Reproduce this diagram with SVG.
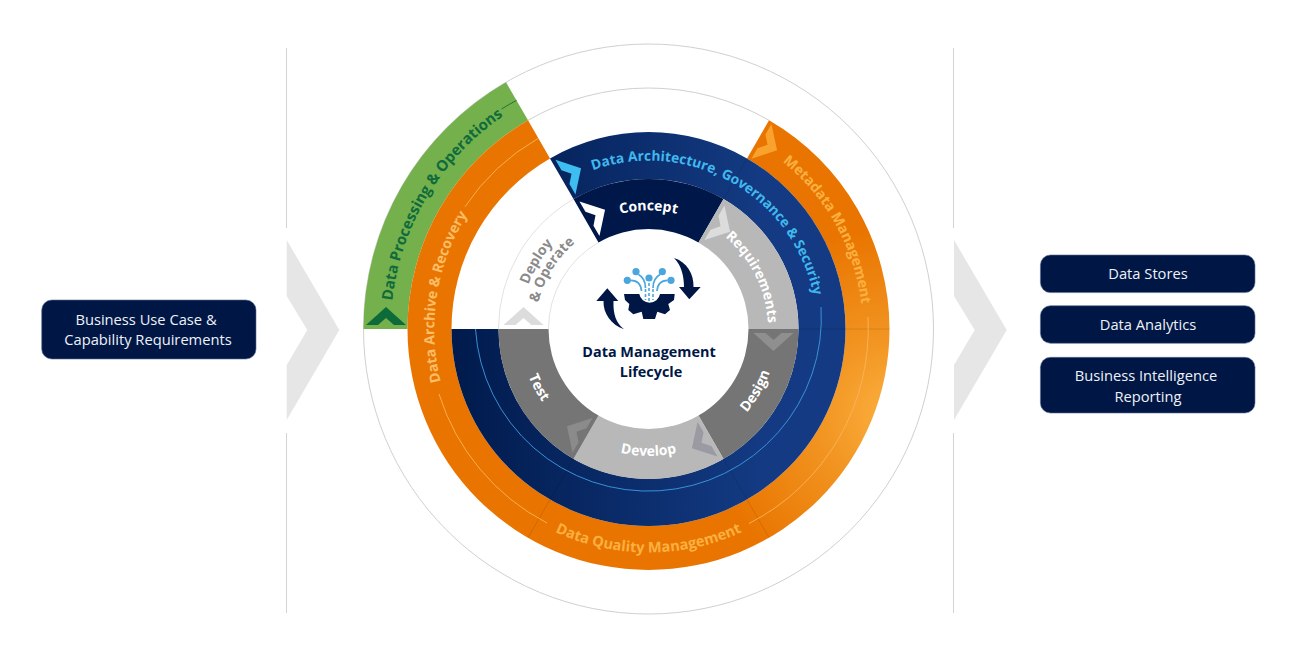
<svg xmlns="http://www.w3.org/2000/svg" xmlns:xlink="http://www.w3.org/1999/xlink" width="1309" height="668" viewBox="0 0 1309 668">
<style>
text{font-family:"Open Sans","Noto Sans","Liberation Sans",sans-serif}
.box{fill:#001746;stroke:#5b6d92;stroke-width:.6}
.bt{fill:#eef1f6;font-size:14.7px;text-anchor:middle}
.rt{font-size:14.2px;font-weight:700;text-anchor:middle}
.st{font-size:14px;font-weight:700;text-anchor:middle;fill:#fff}
.ct{font-size:14.4px;font-weight:700;text-anchor:middle;fill:#001746}
.vl{stroke:#d4d4d4;stroke-width:1;fill:none}
.ring{fill:none;stroke:#d0d0d0;stroke-width:1}
.ring2{fill:none;stroke:#e2e2e2;stroke-width:1}
.bigc{fill:#e6e6e6}
.g-or{fill:none;stroke:#f9b35a;stroke-width:.9}
.g-bl{fill:none;stroke:#3f9be0;stroke-width:.9}
.seam{stroke:#000;stroke-opacity:.14;stroke-width:.8;fill:none}
.dot{fill:#4aa6dc}
.wire{fill:none;stroke:#4aa6dc;stroke-width:1.7}
.dash{fill:none;stroke:#4aa6dc;stroke-width:1.6;stroke-dasharray:3 2}
</style>
<defs>
<polygon id="chev" points="-20,9 0,-9 20,9 8,9 0,2 -8,9"/>
<linearGradient id="blueG" gradientUnits="userSpaceOnUse" x1="-197" y1="0" x2="110" y2="0">
<stop offset="0" stop-color="#001a4c"/><stop offset="1" stop-color="#133a82"/>
</linearGradient>
<radialGradient id="orangeG" gradientUnits="userSpaceOnUse" cx="245" cy="85" r="185">
<stop offset="0" stop-color="#fbb040"/><stop offset=".4" stop-color="#f29522"/><stop offset="1" stop-color="#e97500"/>
</radialGradient>
<path id="u258" d="M-257 -22.5A258 258 0 0 1 257 -22.5"/>
<path id="u214" d="M-213.2 -18.7A214 214 0 0 1 213.2 -18.7"/>
<path id="u168" d="M-167.4 -14.6A168 168 0 0 1 167.4 -14.6"/>
<path id="u118" d="M-117.6 -10.3A118 118 0 0 1 117.6 -10.3"/>
<path id="u120" d="M-119.5 -10.5A120 120 0 0 1 119.5 -10.5"/>
<path id="u128" d="M-127.5 -11.2A128 128 0 0 1 127.5 -11.2"/>
<path id="u113" d="M-112.6 -9.8A113 113 0 0 1 112.6 -9.8"/>
<path id="b224" d="M-223.1 19.5A224 224 0 0 0 223.1 19.5"/>
<path id="b129" d="M-128.5 11.2A129 129 0 0 0 128.5 11.2"/>
<path id="b127" d="M-126.5 11.1A127 127 0 0 0 126.5 11.1"/>
</defs>
<g id="frame">
<path class="vl" d="M286.5 48V228M286.5 433V613M953.5 48V228M953.5 433V613"/>
<polygon class="bigc" points="286.7,240 339.3,330 286.7,420 286.7,365 307.3,330 286.7,296"/>
<polygon class="bigc" points="954,240 1006.7,330 954,420 954,365 974.7,330 954,296"/>
</g>
<g id="input-business-use-case">
<rect class="box" x="41.7" y="300" width="214.3" height="59" rx="10"/>
<text class="bt" x="146" y="324.5">Business Use Case &amp;</text>
<text class="bt" x="148" y="345">Capability Requirements</text>
</g>
<g id="output-data-stores">
<rect class="box" x="1040.4" y="255" width="214.6" height="37.6" rx="10"/>
<text class="bt" x="1148" y="278.5">Data Stores</text>
</g>
<g id="output-data-analytics">
<rect class="box" x="1040.4" y="305.7" width="214.6" height="37.6" rx="10"/>
<text class="bt" x="1148" y="329.5">Data Analytics</text>
</g>
<g id="output-bi-reporting">
<rect class="box" x="1040.4" y="357.3" width="214.6" height="55.7" rx="10"/>
<text class="bt" x="1146" y="381">Business Intelligence</text>
<text class="bt" x="1148" y="401.5">Reporting</text>
</g>
<g id="wheel" transform="translate(648.5 329)">
<g id="guide-circles">
<circle class="ring" r="285"/>
<path class="ring" d="M-120.5 -208.7A241 241 0 0 1 120.5 -208.7"/>
<path class="ring2" d="M-150 0A150 150 0 0 1 -75 -129.9"/>
<path class="ring2" d="M-100 0A100 100 0 0 1 -50 -86.6"/>
</g>
<g id="data-processing-operations">
<path fill="#74b04c" d="M-285 0A285 285 0 0 1 -142.5 -246.8L-120.5 -208.7A241 241 0 0 0 -241 0Z"/>
<use href="#chev" fill="#0d6b3a" transform="translate(-262.5 -13)"/>
<text class="rt" fill="#0f6b3c" style="font-size:15px" transform="rotate(-59)"><textPath href="#u258" startOffset="50%">Data Processing &amp; Operations</textPath></text>
</g>
<g id="data-archive-recovery">
<path fill="#e97500" d="M-241 0A241 241 0 0 1 -120.5 -208.7L-98.5 -170.6A197 197 0 0 0 -197 0Z"/>
</g>
<g id="metadata-management">
<path fill="url(#orangeG)" d="M120.5 -208.7A241 241 0 0 1 241 0L197 0A197 197 0 0 0 98.5 -170.6Z"/>
<use href="#chev" fill="#f9a32e" transform="rotate(120) translate(-219 -13)"/>
<text class="rt" fill="#fbb040" transform="rotate(61)"><textPath href="#u214" startOffset="50%">Metadata Management</textPath></text>
</g>
<g id="data-quality-management">
<path fill="url(#orangeG)" d="M241 0A241 241 0 0 1 -241 0L-197 0A197 197 0 0 0 197 0Z"/>
<text class="rt" fill="#fbb040" style="font-size:14.6px"><textPath href="#b224" startOffset="50%">Data Quality Management</textPath></text>
</g>
<g id="data-archive-label">
<text class="rt" fill="#fbbd66" transform="rotate(-81)"><textPath href="#u214" startOffset="50%">Data Archive &amp; Recovery</textPath></text>
</g>
<g id="data-architecture-governance">
<path fill="url(#blueG)" d="M-98.5 -170.6A197 197 0 0 1 197 0L150 0A150 150 0 0 0 -75 -129.9Z"/>
<path fill="url(#blueG)" d="M197 0A197 197 0 0 1 -197 0L-150 0A150 150 0 0 0 150 0Z"/>
<use href="#chev" fill="#3dbdf0" transform="rotate(60) translate(-173 -13)"/>
<text class="rt" fill="#40b8ee" style="font-size:13.8px" transform="rotate(29.6)"><textPath href="#u168" startOffset="50%">Data Architecture, Governance &amp; Security</textPath></text>
</g>
<g id="concept">
<path fill="#00174a" d="M-75 -129.9A150 150 0 0 1 75 -129.9L50 -86.6A100 100 0 0 0 -50 -86.6Z"/>
<use href="#chev" fill="#fff" transform="rotate(60) translate(-125 -13)"/>
<text class="st"><textPath href="#u118" startOffset="50%">Concept</textPath></text>
</g>
<g id="requirements">
<path fill="#b8b8b8" d="M75 -129.9A150 150 0 0 1 150 0L100 0A100 100 0 0 0 50 -86.6Z"/>
<use href="#chev" fill="#dcdcdc" transform="rotate(120) translate(-125 -13)"/>
<text class="st" transform="rotate(63.5)"><textPath href="#u120" startOffset="50%">Requirements</textPath></text>
</g>
<g id="design">
<path fill="#757575" d="M150 0A150 150 0 0 1 75 129.9L50 86.6A100 100 0 0 0 100 0Z"/>
<use href="#chev" fill="#8f8f8f" transform="rotate(180) translate(-125 -13)"/>
<text class="st" transform="rotate(-60)"><textPath href="#b129" startOffset="50%">Design</textPath></text>
</g>
<g id="develop">
<path fill="#b8b8b8" d="M75 129.9A150 150 0 0 1 -75 129.9L-50 86.6A100 100 0 0 0 50 86.6Z"/>
<use href="#chev" fill="#9a9aa2" transform="rotate(240) translate(-125 -13)"/>
<text class="st"><textPath href="#b127" startOffset="50%">Develop</textPath></text>
</g>
<g id="test">
<path fill="#757575" d="M-75 129.9A150 150 0 0 1 -150 0L-100 0A100 100 0 0 0 -50 86.6Z"/>
<use href="#chev" fill="#8b8b8b" transform="rotate(300) translate(-125 -13)"/>
<text class="st" transform="rotate(62)"><textPath href="#b129" startOffset="50%">Test</textPath></text>
</g>
<g id="deploy-operate">
<use href="#chev" fill="#dcdcdc" transform="translate(-125 -13)"/>
<text class="st" style="fill:#8a8a8a" transform="rotate(-59)"><textPath href="#u128" startOffset="50%">Deploy</textPath></text>
<text class="st" style="fill:#8a8a8a" transform="rotate(-58.5)"><textPath href="#u113" startOffset="50%">&amp; Operate</textPath></text>
</g>
<g id="connectors">
<path class="seam" d="M197 0H150M241 0H197M98.5 -170.6L75 -129.9M98.5 170.6L75 129.9M-98.5 170.6L-75 129.9M120.5 208.7L98.5 170.6M-120.5 208.7L-98.5 170.6"/>
<path d="M-147 -220A264 264 0 0 1 -132 -228.6" fill="none" stroke="#1b6b3a" stroke-width=".9"/>
<path class="g-or" d="M-183.5 -122.3A220 220 0 0 1 -110.5 -190.5"/>
<path class="g-or" d="M-209.5 65A219 219 0 0 0 -101.5 194"/>
<path class="g-or" d="M100.5 194.5A219 219 0 0 0 219.5 -12"/>
<path class="g-bl" d="M172.5 -22A173 173 0 0 1 -173 0"/>
</g>
</g>
<g id="lifecycle-center">
<path fill="#001746" d="M674 258C687 262 694 274 693.5 287L700.7 287L689.3 299.3L679 287L684 287C684 275 681 265 674 258Z"/>
<path fill="#001746" d="M624 329.3C611 325 603 313 603.5 301L596.3 301L607.3 288.3L618.3 301L613.5 301C613 314 616 323 624 329.3Z"/>
<path fill="#001746" d="M624 294L625 300L629.3 304L628.3 310L633.3 314.3L641.7 311.7L643.3 319L655 319L657.3 311.7L665 314.3L670 310L668.3 304L674 300L674.7 294L660 294A10.5 10.5 0 0 1 639.3 294Z"/>
<path class="wire" d="M631 280.3C638 280.5 641 284 641.5 291M638.5 274.5C643 277 645.5 282 645.5 288M660 274.5C655.5 277 653 282 653 288M667.5 280.3C660.5 280.5 657.5 284 657 291"/>
<path class="dash" d="M649 283V301M645.5 289V300M653 289V300"/>
<circle class="dot" cx="627.3" cy="280.3" r="3.6"/>
<circle class="dot" cx="636" cy="271.7" r="3.6"/>
<circle class="dot" cx="649" cy="278" r="3.6"/>
<circle class="dot" cx="662.3" cy="271.7" r="3.6"/>
<circle class="dot" cx="671" cy="280.3" r="3.6"/>
<text class="ct" x="649" y="356.7">Data Management</text>
<text class="ct" x="651" y="376.5">Lifecycle</text>
</g>
</svg>
